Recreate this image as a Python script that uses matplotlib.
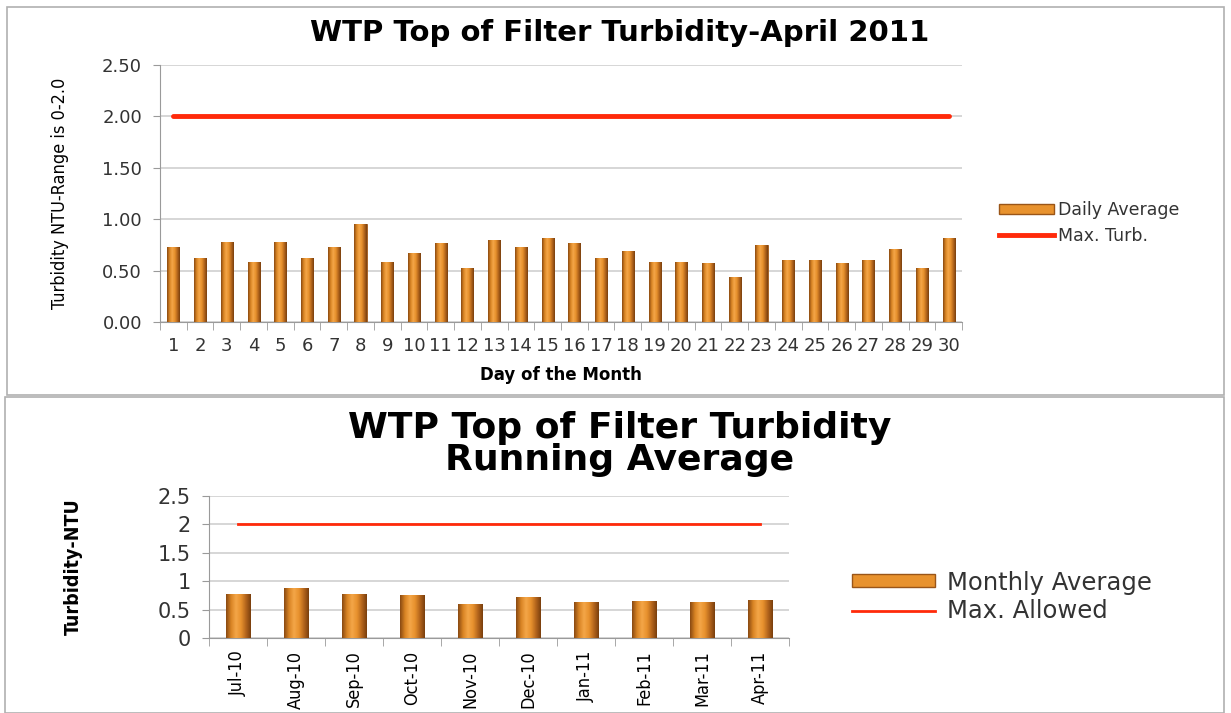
import numpy as np
from matplotlib import pyplot as plt
from matplotlib import font_manager
from matplotlib.colors import LinearSegmentedColormap
from matplotlib.patches import Rectangle

# Data
days = [str(d) for d in range(1, 31)]
daily_avg = [0.73, 0.62, 0.78, 0.58, 0.78, 0.62, 0.73, 0.95, 0.58, 0.67,
             0.77, 0.53, 0.80, 0.73, 0.82, 0.77, 0.62, 0.69, 0.58, 0.58,
             0.57, 0.44, 0.75, 0.60, 0.60, 0.57, 0.60, 0.71, 0.53, 0.82]
max_turb = [2.0] * len(days)

months = ['Jul-10', 'Aug-10', 'Sep-10', 'Oct-10', 'Nov-10',
          'Dec-10', 'Jan-11', 'Feb-11', 'Mar-11', 'Apr-11']
monthly_avg = [0.78, 0.88, 0.78, 0.75, 0.60, 0.73, 0.63, 0.65, 0.63, 0.67]
max_allowed = [2.0] * len(months)

W, H = 1231, 713
bar_cmap = LinearSegmentedColormap.from_list(
    'cyl', ['#8a4a12', '#d98424', '#f4a648', '#e8922e', '#b5661c', '#7a3f0e'])
line_colour = '#ff2a0a'
grid_colour = '#cfcfcf'
axis_colour = '#9a9a9a'

# condensed face for the axis titles, if one is around
names = {f.name for f in font_manager.fontManager.ttflist}
if 'Liberation Sans Narrow' in names:
    narrow = dict(family='Liberation Sans Narrow')
else:
    narrow = dict(family='DejaVu Sans', stretch='condensed')


def px(x0, y0, x1, y1):
    # pixel box (top-left origin) -> figure fraction rect
    return [x0 / W, 1 - y1 / H, (x1 - x0) / W, (y1 - y0) / H]


def gradient_bars(ax, labels, values, width):
    x = np.arange(len(labels))
    bars = ax.bar(x, values, width=width, color='#e38a2a', edgecolor='#9a5518',
                  linewidth=0.6, zorder=3)
    grad = np.linspace(0, 1, 64).reshape(1, -1)
    for b in bars:
        im = ax.imshow(grad, cmap=bar_cmap, aspect='auto', zorder=3.5,
                       extent=[b.get_x(), b.get_x() + b.get_width(), 0, b.get_height()])
        im.set_clip_path(b)
    ax.set_xlim(-0.5, len(labels) - 0.5)
    return bars


def style_axes(ax, ymax, step, fmt, fs):
    ax.set_ylim(0, ymax)
    ticks = np.arange(0, ymax + step / 2, step)
    ax.set_yticks(ticks)
    ax.set_yticklabels([fmt.format(v) for v in ticks], fontsize=fs, color='#333333')
    ax.grid(axis='y', color=grid_colour, linewidth=1.2, zorder=0)
    for s in ['top', 'right']:
        ax.spines[s].set_visible(False)
    ax.spines['left'].set_color(axis_colour)
    ax.spines['bottom'].set_color(axis_colour)
    ax.tick_params(axis='y', length=5, color=axis_colour, pad=8)
    ax.tick_params(axis='x', which='major', length=0)
    ax.tick_params(axis='x', which='minor', length=6, color=axis_colour)


fig = plt.figure(figsize=(W / 100, H / 100), dpi=100)

# panel frames
fig.add_artist(Rectangle((7 / W, 1 - 395 / H), 1217 / W, 388 / H, transform=fig.transFigure,
                         fill=False, edgecolor='#b0b0b0', linewidth=1.2))
fig.add_artist(Rectangle((5 / W, 0), 1219 / W, 1 - 397 / H, transform=fig.transFigure,
                         fill=False, edgecolor='#b0b0b0', linewidth=1.2))

# ---- top chart
ax1 = fig.add_axes(px(160, 65, 962, 322))
gradient_bars(ax1, days, daily_avg, 0.45)
ax1.plot(np.arange(len(days)), max_turb, color=line_colour, linewidth=3.5,
         solid_capstyle='round', zorder=4)
style_axes(ax1, 2.5, 0.5, '{:.2f}', 13)
ax1.set_xticks(np.arange(len(days)))
ax1.set_xticklabels(days, fontsize=13, color='#333333')
ax1.set_xticks(np.arange(-0.5, len(days)), minor=True)
ax1.tick_params(axis='x', which='major', pad=11)
ax1.set_xlabel('Day of the Month', fontsize=12, fontweight='bold', labelpad=8)
ax1.set_ylabel('Turbidity NTU-Range is 0-2.0', fontsize=13, labelpad=24, **narrow)
fig.text(620 / W, 1 - 33 / H, 'WTP Top of Filter Turbidity-April 2011', ha='center',
         va='center', fontsize=21, fontweight='bold')
h1 = [Rectangle((0, 0), 1, 1, facecolor='#e8922e', edgecolor='#9a5518'),
      plt.Line2D([], [], color=line_colour, linewidth=3.5)]
fig.legend(h1, ['Daily Average', 'Max. Turb.'], loc='center left',
           bbox_to_anchor=(983 / W, 1 - 223 / H), frameon=False, fontsize=12.5,
           handlelength=3.2, handleheight=0.5, handletextpad=0.2, labelspacing=0.45,
           labelcolor='#333333')

# ---- bottom chart
ax2 = fig.add_axes(px(209, 496, 789, 638))
gradient_bars(ax2, months, monthly_avg, 0.42)
ax2.plot(np.arange(len(months)), max_allowed, color=line_colour, linewidth=2, zorder=4)
style_axes(ax2, 2.5, 0.5, '{:g}', 15)
ax2.set_xticks(np.arange(len(months)))
ax2.set_xticklabels(months, rotation=90, fontsize=13, **narrow)
ax2.set_xticks(np.arange(-0.5, len(months)), minor=True)
ax2.tick_params(axis='x', which='major', pad=9)
ax2.set_ylabel('Turbidity-NTU', fontsize=14, fontweight='bold', labelpad=54, **narrow)
fig.text(620 / W, 1 - 444 / H, 'WTP Top of Filter Turbidity\nRunning Average', ha='center',
         va='center', fontsize=26, fontweight='bold', linespacing=0.95)
h2 = [Rectangle((0, 0), 1, 1, facecolor='#e8922e', edgecolor='#9a5518'),
      plt.Line2D([], [], color=line_colour, linewidth=2)]
fig.legend(h2, ['Monthly Average', 'Max. Allowed'], loc='center left',
           bbox_to_anchor=(830 / W, 1 - 597 / H), frameon=False, fontsize=17.5,
           handlelength=3.4, handleheight=0.45, handletextpad=0.5, labelspacing=0.2,
           labelcolor='#333333')

fig.savefig('out.png', dpi=100)
